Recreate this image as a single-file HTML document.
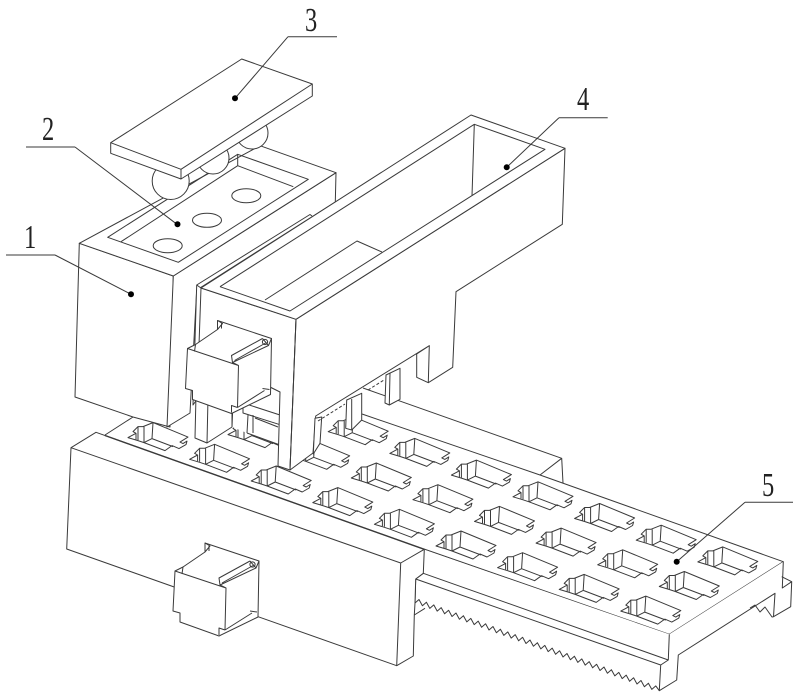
<!DOCTYPE html>
<html><head><meta charset="utf-8"><style>
html,body{margin:0;padding:0;background:#fff}
svg{display:block}
.w{fill:#fff}
text{font-family:"Liberation Serif",serif;font-size:34px;fill:#222;stroke:none}
</style></head><body>
<svg width="800" height="698" viewBox="0 0 800 698" fill="none" stroke="#3a3a3a" stroke-width="1" stroke-linejoin="round">
<defs>
<g id="c">
<path class="w" d="M0,0L35,14.5L27,19.5L30,21L34,18.5L33,22L26,26L19,23L12,28L-9,20L-15,18L-25,15L-17,10.7L-20,9L-15,4L-10,4Z"/>
<path d="M-15,4V17.5M-9,4V20M0,0L-1,16L20,24M-1,16L-9,20M-17,10.7V17"/>
</g>
<g id="m">
<path class="w" d="M175,571L183,567L205,552V543L259,561L258,617L219,636L180,622V613L173,611Z"/>
<path d="M175,571L226,588L225,630M226,588L220,585L219,578L250,561M220,585L256,568L259,561M222,583L254,565M250,561L256,568M183,567L182,574M205,543L210,546L205,552M209,546V551M250,611L257,612M219,635V628L225,630M225,630L252,613"/>
<circle cx="252.5" cy="564.5" r="2.6"/>
</g>
</defs>

<!-- back plate -->
<path d="M363,388L561.7,458.3L540,475M561.7,458.3L563,483"/>
<!-- plate top -->
<path class="w" d="M105,435L133,417L362,414L424,549L105,435Z" style="stroke:none"/>
<path class="w" d="M362,414L540,475L563,483L783.3,561.7L669.3,634.3L424,549Z" style="stroke:none"/>
<path d="M105,435L133,417M362,414L540,475L783.3,561.7L669.3,634.3L424,549"/>
<!-- plate side -->
<path class="w" d="M425,550V574.3L416.7,579.3L415,603L414,613L396,640L660,691L677,680L678.3,655L775,593.3L773,617L790.7,606.7L791.7,581.7L782,588L783.3,561.7L669.3,634.3Z" style="stroke:none"/>
<path d="M669.3,634.3L668.3,660L660.7,665L659.3,690.7L676.7,680L678.3,655L775,593.3L773.5,616.7L772,617L765,607L760,612L755,605L750,608M423.3,573.3L668.3,660M415.7,579L423.3,573.3M415.7,579L660.7,665M415.7,579L415,603M783.3,561.7L782.3,588L791.7,581.7L781.7,576.7M791.7,581.7L790.7,606.7L773.5,616.7"/>
<path d="M414.3,615L425,608.3M415,603L419,599.5L422.4,605.7L426.4,602.2L429.8,608.4L433.8,604.9L437.2,611.1L441.2,607.6L444.6,613.8L448.6,610.3L452,616.5L456,613L459.4,619.2L463.4,615.7L466.8,621.9L470.8,618.4L474.2,624.6L478.2,621.1L481.6,627.3L485.6,623.8L489,630L493,626.5L496.4,632.7L500.4,629.2L503.8,635.4L507.8,631.9L511.2,638.1L515.2,634.6L518.6,640.8L522.6,637.3L526,643.5L530,640L533.4,646.2L537.4,642.7L540.8,648.9L544.8,645.4L548.2,651.6L552.2,648.1L555.6,654.3L559.6,650.8L563,657L567,653.5L570.4,659.7L574.4,656.2L577.8,662.4L581.8,658.9L585.2,665.1L589.2,661.6L592.6,667.8L596.6,664.3L600,670.5L604,667L607.4,673.2L611.4,669.7L614.8,675.9L618.8,672.4L622.2,678.6L626.2,675.1L629.6,681.3L633.6,677.8L637,684L641,680.5L644.4,686.7L648.4,683.2L651.8,689.4L655.8,685.9L659.3,690.7"/>

<!-- cells -->
<use href="#c" x="153" y="422.6"/><use href="#c" x="214.6" y="444.3"/><use href="#c" x="276.2" y="466"/><use href="#c" x="337.8" y="487.6"/><use href="#c" x="399.4" y="509.3"/><use href="#c" x="461" y="531"/><use href="#c" x="522.6" y="552.7"/><use href="#c" x="584.2" y="574.4"/><use href="#c" x="645.8" y="596.1"/>
<use href="#c" x="253" y="419.6"/><use href="#c" x="314.7" y="441.3"/><use href="#c" x="376.3" y="463"/><use href="#c" x="437.9" y="484.7"/><use href="#c" x="499.5" y="506.4"/><use href="#c" x="561.1" y="528.1"/><use href="#c" x="622.7" y="549.8"/><use href="#c" x="684.3" y="571.5"/>
<use href="#c" x="353.2" y="416.7"/><use href="#c" x="414.8" y="438.4"/><use href="#c" x="476.4" y="460.1"/><use href="#c" x="538" y="481.8"/><use href="#c" x="599.6" y="503.5"/><use href="#c" x="661.2" y="525.2"/><use href="#c" x="722.8" y="546.9"/>

<!-- base front block -->
<path class="w" d="M96,432.3L424.3,549.3L423.3,573.3L415.7,579L415,603L414.3,615L413.3,656L396.7,665.7L66.7,549L71,447.7Z"/>
<path d="M71,447.7L400.7,563L396.7,665.7M400.7,563L424.3,549.3"/>
<path d="M105,435.5L424.3,549.3" stroke-width="1.4"/>

<!-- box 1 -->
<path class="w" d="M79.3,243.3L173.3,276L170,427L133,417L75,397Z"/>
<path class="w" d="M173.3,276L336,172.7L335.3,202L196.7,290L190,413L167,427Z"/>
<path class="w" d="M79.3,243.3L260,145.7L336,172.7L173.3,276Z"/>
<path d="M107.7,237.3L178.3,262.3L308.3,179.3L237.7,154.3Z"/>
<path d="M121,241.7L237.7,165.7V154.3M237.7,165.7L293.3,186.7"/>
<ellipse cx="167.7" cy="245.7" rx="14.5" ry="7"/>
<ellipse cx="207" cy="220.3" rx="14.5" ry="7"/>
<ellipse cx="246.3" cy="195.7" rx="14.5" ry="7"/>
<path d="M196.7,285L310,214.5L312,216"/>

<!-- balls -->
<circle class="w" cx="252" cy="133" r="16"/>
<circle class="w" cx="213" cy="158" r="16"/>
<circle class="w" cx="170.7" cy="181" r="18.5"/>

<!-- plate 3 -->
<path class="w" d="M241.7,59L312.3,84V96L181,179L110.7,153.3V142.7Z"/>
<path d="M110.7,142.7L181,169.3L312.3,84M181,169.3V179"/>

<!-- columns / bracket under box 4 -->
<path class="w" d="M196,395L195,438L207,443L232,427L232,402Z"/>
<path d="M208,398L207,443"/>
<path class="w" d="M233,402L232,427L247,433L280,445V392L270,387L243,403Z" style="stroke:none"/>
<path d="M233,402L232,427M243,403L270,387L281,392L280,415L243,403V413L280,424.7M255,418L278,427M248,415L247,433M253,415V433M247,433L280,445"/>

<!-- box 4 -->
<path class="w" d="M196.7,285L201,288L296,319.3L290,470L278,466L280,392L270,387L243,403L200,395L193,405Z"/>
<path class="w" d="M296,319.3L565,148.3L562.3,224.3L456,291.7L452.7,367.3L428.3,382.7L416.7,377.3V354L429.3,345.7L315.7,416L313,453L290,470Z"/>
<path class="w" d="M201,288L471,115L565,148.3L296,319.3Z"/>
<path d="M220,286.7L474.3,124.3L545,149.3L290,311L220,286.7M474.3,124.3L472,196M265,300L357,241L382,252M201,288L199,345M296,319.3L290,470M429.3,345.7L428.3,382.7"/>

<!-- small columns under box 4 -->
<path class="w" d="M315,418.3L313.3,454L320,443.3L321.7,417Z"/>
<path class="w" d="M346.7,400L345.7,428.3L351.7,430L361.7,420V393.3Z"/>
<path d="M351.7,399V430"/>
<path class="w" d="M386,375L385,403L389.3,405L400,399.3V368.3Z"/>
<path d="M390,373L389.3,405"/>
<path d="M318,421L345,404M368,390L384,380" stroke-dasharray="3 2"/>

<!-- motors -->
<use href="#m" transform="translate(12.5,-222.5)"/>
<use href="#m"/>

<!-- leaders -->
<path d="M288,36.7H337M288,36.7L235,98.3"/>
<path d="M26,147H75M75,147L177,224.3"/>
<path d="M6,255H55M55,255L131,294.3"/>
<path d="M559,117.7H607.7M559,117.7L506.7,167.3"/>
<path d="M745,502.3H793M745,502.3L676.7,561.7"/>
<g fill="#000" stroke="none">
<circle cx="235" cy="98.3" r="3"/><circle cx="177.5" cy="224.3" r="3"/><circle cx="131" cy="294.3" r="3"/><circle cx="506.7" cy="167.3" r="3"/><circle cx="676.7" cy="561.7" r="3"/>
</g>
<text transform="translate(305,31) scale(.72,1)">3</text>
<text transform="translate(42,140) scale(.72,1)">2</text>
<text transform="translate(24,248) scale(.72,1)">1</text>
<text transform="translate(577,110) scale(.72,1)">4</text>
<text transform="translate(762,496) scale(.72,1)">5</text>
</svg>
</body></html>
